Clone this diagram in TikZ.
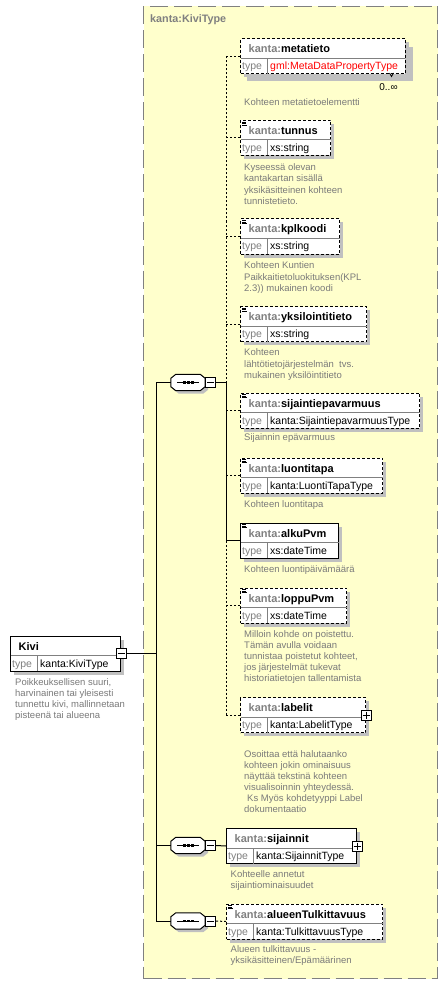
\documentclass[tikz,border=0pt]{standalone}
\usepackage{fontspec}
\setmainfont{Liberation Sans}
\usetikzlibrary{calc}
\definecolor{bgyellow}{RGB}{255,255,204}
\definecolor{framegray}{RGB}{128,128,128}
\definecolor{shadowgray}{RGB}{192,192,192}
\definecolor{prefixgray}{RGB}{128,128,128}
\definecolor{docgray}{RGB}{122,122,122}
\definecolor{typered}{RGB}{255,0,0}
\newcommand{\xnamefont}{\fontsize{11}{13}\selectfont\bfseries}
\newcommand{\xtypefont}{\fontsize{10.5}{12}\selectfont}
\newcommand{\xdocfont}{\fontsize{9.5}{11.1}\selectfont}
\newcommand{\xtitlefont}{\fontsize{10.8}{12}\selectfont\bfseries}
\newcommand{\xst}{\rule{0pt}{8pt}}
\tikzset{
  elbox/.style={draw=black, fill=white, line width=1pt, minimum height=35pt, inner sep=0pt, anchor=north west},
  optbox/.style={dash pattern=on 3pt off 2pt},
  reqbox/.style={solid},
  divline/.style={draw=framegray, line width=1pt},
  namelbl/.style={anchor=base west, inner sep=0pt, font=\xnamefont},
  typelbl/.style={anchor=base west, inner sep=0pt, font=\xtypefont},
  doc/.style={anchor=north west, inner sep=0pt, align=left, text=docgray, font=\xdocfont},
  conn/.style={draw=black, line width=1pt},
  optconn/.style={conn, dash pattern=on 2pt off 2pt},
  pmbox/.style={draw=black, fill=white, line width=1pt, minimum size=10pt, inner sep=0pt},
  seqcore/.style={draw=none, minimum width=34pt, minimum height=16pt, inner sep=0pt},
  iconline/.style={draw=black, line width=0.7pt}
}
% element box: #1 name, #2 x, #3 top, #4 width, #5 border style, #6 prefix, #7 local name, #8 type
\newcommand{\xelem}[8]{%
  \fill[shadowgray] (#2+4,#3+4) rectangle (#2+#4+4,#3+39);
  \node[elbox,#5,minimum width=#4pt] (#1) at (#2,#3) {};
  \draw[divline] ([xshift=0.5pt,yshift=-20pt]#1.north west) -- ([xshift=-0.5pt,yshift=-20pt]#1.north east);
  \draw[divline] ([xshift=27pt,yshift=-20pt]#1.north west) -- ([xshift=27pt,yshift=0.5pt]#1.south west);
  \node[namelbl] (#1-name) at ([xshift=8.5pt,yshift=-14.5pt]#1.north west) {\textcolor{prefixgray}{#6}#7};
  \node[typelbl,text=framegray] (#1-tl) at ([xshift=2pt,yshift=-31.5pt]#1.north west) {type};
  \node[typelbl] (#1-tv) at ([xshift=30pt,yshift=-31.5pt]#1.north west) {#8};
}
\newcommand{\xicon}[1]{%
  \draw[iconline] ([xshift=2pt,yshift=-2pt]#1.north west) -- ([xshift=6pt,yshift=-2pt]#1.north west);
  \draw[iconline] ([xshift=2pt,yshift=-3.5pt]#1.north west) -- ([xshift=6pt,yshift=-3.5pt]#1.north west);
  \draw[iconline] ([xshift=2pt,yshift=-5pt]#1.north west) -- ([xshift=7pt,yshift=-5pt]#1.north west);
}
\newcommand{\xplus}[1]{%
  \node[pmbox] (#1-pm) at (#1.east) {};
  \draw[conn] ([xshift=2pt]#1-pm.west) -- ([xshift=-2pt]#1-pm.east);
  \draw[conn] ([yshift=-2pt]#1-pm.north) -- ([yshift=2pt]#1-pm.south);
}
\newcommand{\octpath}[3]{([xshift=5pt+#2,yshift=#3]#1.north west) -- ([xshift=-5pt+#2,yshift=#3]#1.north east) -- ([xshift=#2,yshift=-4pt+#3]#1.north east) -- ([xshift=#2,yshift=4pt+#3]#1.south east) -- ([xshift=-5pt+#2,yshift=#3]#1.south east) -- ([xshift=5pt+#2,yshift=#3]#1.south west) -- ([xshift=#2,yshift=4pt+#3]#1.south west) -- ([xshift=#2,yshift=-4pt+#3]#1.north west) -- cycle}
% sequence compositor: #1 name, #2 cx, #3 cy
\newcommand{\xseq}[3]{%
  \node[seqcore] (#1) at (#2,#3) {};
  \fill[shadowgray] \octpath{#1}{3pt}{-3pt};
  \filldraw[fill=white,draw=black,line width=1pt] \octpath{#1}{0pt}{0pt};
  \draw[conn] ([xshift=6pt]#1.west) -- ([xshift=-6pt]#1.east);
  \fill[black] ([xshift=-5.5pt,yshift=-1pt]#1.center) rectangle ([xshift=-2.5pt,yshift=1.2pt]#1.center);
  \fill[black] ([xshift=-1.5pt,yshift=-1pt]#1.center) rectangle ([xshift=1.5pt,yshift=1.2pt]#1.center);
  \fill[black] ([xshift=2.5pt,yshift=-1pt]#1.center) rectangle ([xshift=5.5pt,yshift=1.2pt]#1.center);
  \node[pmbox] (#1-pm) at ([xshift=5.5pt]#1.east) {};
  \draw[conn] ([xshift=2pt]#1-pm.west) -- ([xshift=-2pt]#1-pm.east);
}
\begin{document}
\begin{tikzpicture}[x=1pt,y=-1pt]
\useasboundingbox (0,0) rectangle (447,984);
\fill[white] (0,0) rectangle (447,984);
% complex type frame
\node[draw=framegray, fill=bgyellow, dash pattern=on 18pt off 6pt, line width=1pt, minimum width=294pt, minimum height=972pt, anchor=north west, inner sep=0pt] (kivitype) at (143,6) {};
\node[anchor=base west, inner sep=0pt, text=framegray, font=\xtitlefont] (kivitype-title) at (150,23) {kanta:KiviType};

% root element
\xelem{kivi}{10}{635.5}{110}{reqbox}{}{Kivi}{kanta:KiviType}
\node[pmbox] (kivi-pm) at (kivi.east) {};
\draw[conn] ([xshift=2pt]kivi-pm.west) -- ([xshift=-2pt]kivi-pm.east);
\node[doc] (kivi-doc) at (15,677) {\xst Poikkeuksellisen suuri,\\harvinainen tai yleisesti\\tunnettu kivi, mallinnetaan\\pisteenä tai alueena};

% compositors
\xseq{seqa}{188}{382.5}
\xseq{seqb}{188}{845.5}
\xseq{seqc}{188}{921}

% child elements
\fill[shadowgray] (247,47) rectangle (412.5,81.5);
\xelem{metatieto}{240}{38.5}{164.5}{optbox}{kanta:}{metatieto}{\textcolor{typered}{gml:MetaDataPropertyType}}
\draw[line width=0.8pt] (389.5,73) -- (391.5,76.5) -- (393.5,73);
\node[anchor=center, inner sep=0pt, font=\fontsize{10}{12}\selectfont] (metatieto-occ) at (388.5,87.5) {0..∞};
\node[doc] (metatieto-doc) at (244,97.5) {\xst Kohteen metatietoelementti};

\xelem{tunnus}{240}{120}{90}{optbox}{kanta:}{tunnus}{xs:string}
\xicon{tunnus}
\node[doc] (tunnus-doc) at (244,162.7) {\xst Kyseessä olevan\\kantakartan sisällä\\yksikäsitteinen kohteen\\tunnistetieto.};

\xelem{kplkoodi}{240}{218.5}{99}{optbox}{kanta:}{kplkoodi}{xs:string}
\xicon{kplkoodi}
\node[doc] (kplkoodi-doc) at (244,260.7) {\xst Kohteen Kuntien\\Paikkaitietoluokituksen(KPL\\2.3)) mukainen koodi};

\xelem{yksil}{240}{306}{126}{optbox}{kanta:}{yksilointitieto}{xs:string}
\xicon{yksil}
\node[doc] (yksil-doc) at (244,347.7) {\xst Kohteen\\lähtötietojärjestelmän\ \ tvs.\\mukainen yksilöintitieto};

\xelem{sijep}{240}{392.5}{179}{optbox}{kanta:}{sijaintiepavarmuus}{kanta:SijaintiepavarmuusType}
\xicon{sijep}
\node[doc] (sijep-doc) at (244,432.5) {\xst Sijainnin epävarmuus};

\xelem{luontitapa}{240}{457.5}{142}{optbox}{kanta:}{luontitapa}{kanta:LuontiTapaType}
\xicon{luontitapa}
\node[doc] (luontitapa-doc) at (244,499.3) {\xst Kohteen luontitapa};

\xelem{alkupvm}{240}{522.5}{98}{reqbox}{kanta:}{alkuPvm}{xs:dateTime}
\xicon{alkupvm}
\node[doc] (alkupvm-doc) at (244,564.3) {\xst Kohteen luontipäivämäärä};

\xelem{loppupvm}{240}{587.5}{106}{optbox}{kanta:}{loppuPvm}{xs:dateTime}
\xicon{loppupvm}
\node[doc] (loppupvm-doc) at (244,629) {\xst Milloin kohde on poistettu.\\Tämän avulla voidaan\\tunnistaa poistetut kohteet,\\jos järjestelmät tukevat\\historiatietojen tallentamista};

\xelem{labelit}{240}{697}{125}{optbox}{kanta:}{labelit}{kanta:LabelitType}
\xplus{labelit}
\node[doc] (labelit-doc) at (244,749) {\xst Osoittaa että halutaanko\\kohteen jokin ominaisuus\\näyttää tekstinä kohteen\\visualisoinnin yhteydessä.\\\hspace*{3pt}Ks Myös kohdetyyppi Label\\dokumentaatio};

\xelem{sijainnit}{226}{828}{130}{reqbox}{kanta:}{sijainnit}{kanta:SijainnitType}
\xplus{sijainnit}
\node[doc] (sijainnit-doc) at (230.5,869.3) {\xst Kohteelle annetut\\sijaintiominaisuudet};

\xelem{alueen}{226}{903.5}{156}{optbox}{kanta:}{alueenTulkittavuus}{kanta:TulkittavuusType}
\xicon{alueen}
\node[doc] (alueen-doc) at (230.5,944.3) {\xst Alueen tulkittavuus -\\yksikäsitteinen/Epämäärinen};

% connectors: root to compositors
\coordinate (trunk) at (156,653);
\draw[conn] (kivi-pm.east) -- (kivi-pm.east -| trunk);
\draw[conn] (seqa.west -| trunk) -- (seqc.west -| trunk);
\draw[conn] (seqa.west -| trunk) -- (seqa.west);
\draw[conn] (seqb.west -| trunk) -- (seqb.west);
\draw[conn] (seqc.west -| trunk) -- (seqc.west);

% first sequence bus
\coordinate (bus) at (226,382.5);
\draw[conn] (seqa-pm.east) -- (bus);
\draw[optconn] (bus) -- (bus |- metatieto.west);
\draw[conn] (bus) -- (bus |- alkupvm.west);
\draw[optconn] (bus |- alkupvm.west) -- (bus |- labelit.west);
\foreach \el in {metatieto,tunnus,kplkoodi,yksil,sijep,luontitapa,loppupvm,labelit}{
  \draw[optconn] (bus |- \el.west) -- (\el.west);
}
\draw[conn] (bus |- alkupvm.west) -- (alkupvm.west);

% other sequences
\draw[conn] (seqb-pm.east) -- (sijainnit.west);
\draw[optconn] (seqc-pm.east) -- (alueen.west);
\end{tikzpicture}
\end{document}
